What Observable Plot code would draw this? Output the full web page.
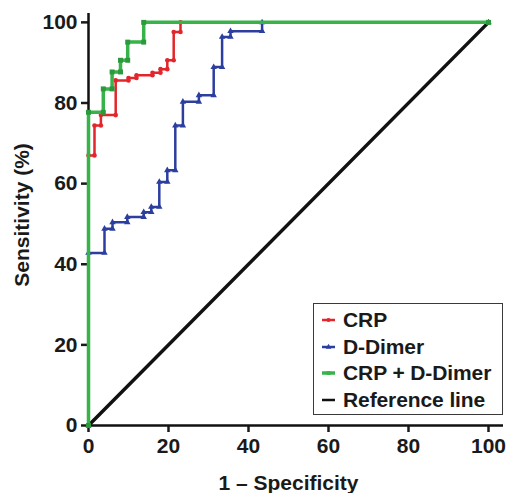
<!DOCTYPE html>
<html>
<head>
<meta charset="utf-8">
<script src="https://cdn.jsdelivr.net/npm/d3@7"></script>
<script src="https://cdn.jsdelivr.net/npm/@observablehq/plot@0.6"></script>
<style>
  html, body { margin: 0; padding: 0; background: #fff; }
  #chart { position: relative; width: 509px; height: 493px; font-family: "Liberation Sans", Arial, Helvetica, sans-serif; }
  #legend {
    position: absolute; left: 313px; top: 303px; width: 190px; height: 112px;
    border: 1.5px solid #3a3a3a; background: #fff; box-sizing: border-box;
    padding: 3px 0 0 8px;
  }
  .row { display: flex; align-items: center; height: 26.5px; font-weight: bold; font-size: 21px; color: #1a1a1a; letter-spacing: -0.1px; }
  .row svg { margin-right: 8px; }
</style>
</head>
<body>
<div id="chart"><div id="legend"></div></div>
<script>
// ROC curve vertices: 1 - specificity (%) and sensitivity (%)
const crpFpr = [0, 0, 1.5, 1.5, 3.1, 3.1, 6.8, 6.8, 10, 10, 12, 12, 16, 16, 18, 18, 19.7, 19.7, 21.3, 21.3, 23, 23, 100];
const crpTpr = [0, 67, 67, 74.4, 74.4, 77, 77, 85.6, 85.6, 86.2, 86.2, 86.9, 86.9, 87.5, 87.5, 88.4, 88.4, 90.6, 90.6, 97.6, 97.6, 100, 100];

const ddimerFpr = [0, 0, 4, 4, 6, 6, 9.7, 9.7, 13.8, 13.8, 15.7, 15.7, 17.7, 17.7, 19.7, 19.7, 21.7, 21.7, 23.6, 23.6, 27.6, 27.6, 31.3, 31.3, 33.4, 33.4, 35.5, 35.5, 43.4, 43.4, 100];
const ddimerTpr = [0, 42.8, 42.8, 48.8, 48.8, 50.4, 50.4, 51.7, 51.7, 52.9, 52.9, 54.2, 54.2, 60.4, 60.4, 63.3, 63.3, 74.4, 74.4, 80.3, 80.3, 81.9, 81.9, 88.9, 88.9, 96.4, 96.4, 97.8, 97.8, 100, 100];

const comboFpr = [0, 0, 3.7, 3.7, 5.9, 5.9, 8, 8, 9.8, 9.8, 13.8, 13.8, 100];
const comboTpr = [0, 77.7, 77.7, 83.5, 83.5, 87.7, 87.7, 90.6, 90.6, 95.1, 95.1, 100, 100];

const refFpr = [0, 100];
const refTpr = [0, 100];

const xTicks = [0, 20, 40, 60, 80, 100];
const yTicks = [0, 20, 40, 60, 80, 100];

const seriesNames = ["CRP", "D-Dimer", "CRP + D-Dimer", "Reference line"];
const seriesColors = ["#e3262b", "#2c3f9f", "#37b34a", "#111111"];
const seriesSymbols = ["circle", "triangle", "square", null];

const xLabel = "1 – Specificity";
const yLabel = "Sensitivity (%)";

const toRows = (xs, ys) => xs.map((x, i) => ({x, y: ys[i]}));
const crp = toRows(crpFpr, crpTpr);
const ddimer = toRows(ddimerFpr, ddimerTpr);
const combo = toRows(comboFpr, comboTpr);
const ref = toRows(refFpr, refTpr);

const font = "'Liberation Sans', Arial, Helvetica, sans-serif";

const chart = Plot.plot({
  width: 509,
  height: 493,
  marginLeft: 88,
  marginRight: 6,
  marginTop: 13,
  marginBottom: 68,
  x: {domain: [0, 103.75]},
  y: {domain: [0, 102.2]},
  style: {fontFamily: font, background: "#fff", color: "#1a1a1a"},
  marks: [
    Plot.axisX({ticks: xTicks, tickSize: 7, tickPadding: 6, strokeWidth: 2.5, fontSize: 21, fontWeight: "bold", label: null}),
    Plot.axisY({ticks: yTicks, tickSize: 7, tickPadding: 4, strokeWidth: 2.5, fontSize: 21, fontWeight: "bold", label: null}),
    Plot.ruleX([0], {stroke: "#111", strokeWidth: 2.5}),
    Plot.ruleY([0], {stroke: "#111", strokeWidth: 2.5}),
    Plot.line(ref, {x: "x", y: "y", stroke: seriesColors[3], strokeWidth: 3.5}),
    Plot.line(ddimer, {x: "x", y: "y", stroke: seriesColors[1], strokeWidth: 2.5}),
    Plot.dot(ddimer, {x: "x", y: "y", fill: seriesColors[1], symbol: seriesSymbols[1], r: 2.4}),
    Plot.line(crp, {x: "x", y: "y", stroke: seriesColors[0], strokeWidth: 2.5}),
    Plot.dot(crp, {x: "x", y: "y", fill: seriesColors[0], symbol: seriesSymbols[0], r: 2.3}),
    Plot.line(combo, {x: "x", y: "y", stroke: seriesColors[2], strokeWidth: 3.5}),
    Plot.dot(combo, {x: "x", y: "y", fill: "#2a9a3c", symbol: seriesSymbols[2], r: 2.8}),
    Plot.text([xLabel], {x: d3.mean(d3.extent(xTicks)), y: 0, dy: 58, text: d => d, fontSize: 21, fontWeight: "bold", lineAnchor: "middle"}),
    Plot.text([yLabel], {x: 0, y: d3.mean(d3.extent(yTicks)), dx: -66, dy: -9, rotate: -90, text: d => d, fontSize: 21, fontWeight: "bold", lineAnchor: "middle"})
  ]
});
document.getElementById("chart").prepend(chart);

// Legend: short line swatch with series marker, then the series name
const legend = d3.select("#legend");
seriesNames.forEach((name, i) => {
  const row = legend.append("div").attr("class", "row");
  const sw = row.append("svg").attr("width", 13).attr("height", 10);
  sw.append("line").attr("x1", 0).attr("x2", 13).attr("y1", 5).attr("y2", 5)
    .attr("stroke", seriesColors[i]).attr("stroke-width", i === 2 ? 3.5 : 2.5);
  if (seriesSymbols[i]) {
    const sym = d3.symbol(seriesSymbols[i] === "circle" ? d3.symbolCircle : seriesSymbols[i] === "triangle" ? d3.symbolTriangle : d3.symbolSquare, 14);
    sw.append("path").attr("d", sym()).attr("transform", "translate(6.5,5)").attr("fill", seriesColors[i]);
  }
  row.append("span").text(name);
});
</script>
</body>
</html>
